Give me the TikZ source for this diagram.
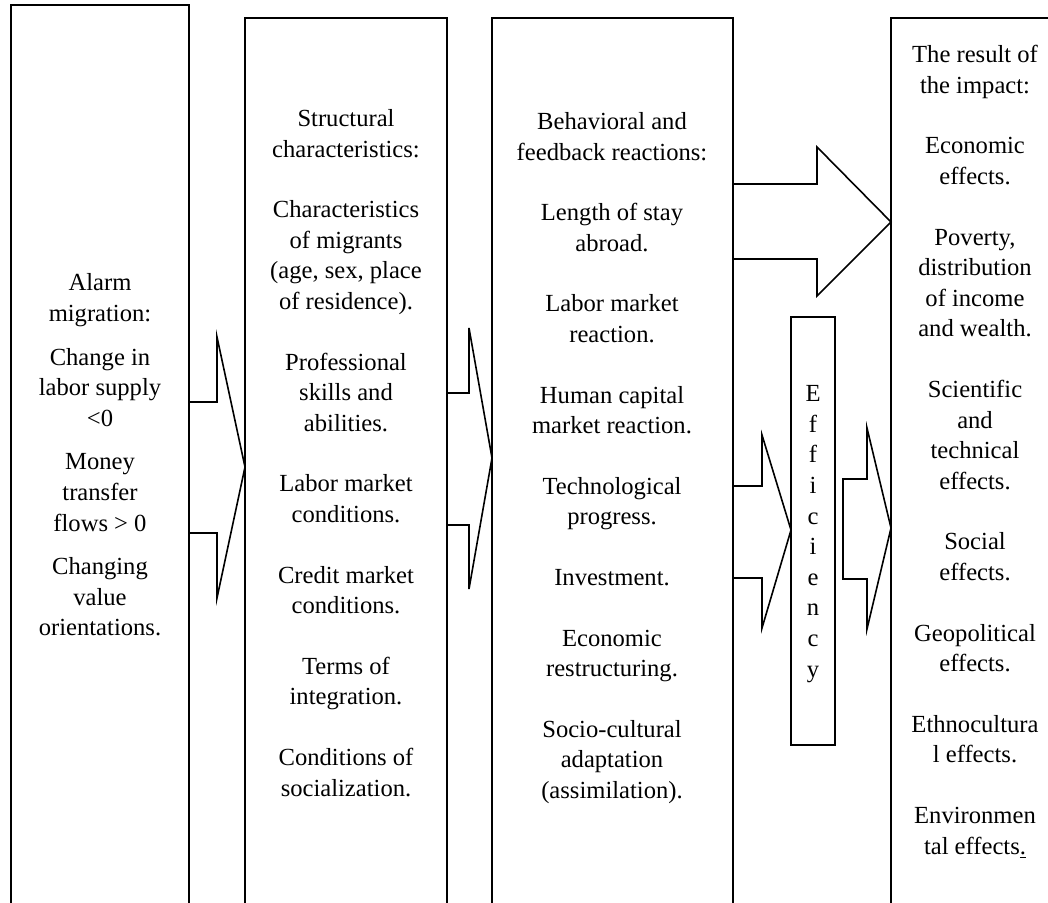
\documentclass[tikz,border=0pt]{standalone}
\usepackage{fontspec}
\setmainfont{Liberation Serif}
\usetikzlibrary{fit}
\newcommand{\boxfont}{\fontsize{12.3}{15.3}\selectfont}
\tikzset{
	frame/.style={draw, line width=0.9pt, inner sep=0pt, outer sep=0pt},
	blockarrow/.style={line width=0.8pt},
	boxtext/.style={align=center, font=\boxfont, inner sep=0pt},
}
\begin{document}
\begin{tikzpicture}[x=0.5pt,y=-0.5pt]
		\useasboundingbox (0,0) rectangle (1048,903);
		\clip (0,0) rectangle (1048,903);
		% frames, open below the picture
		\node[frame, fit={(11,5) (189,940)}] (alarmbox) {};
		\node[frame, fit={(245,18) (447,940)}] (structbox) {};
		\node[frame, fit={(492,18) (733,940)}] (reactbox) {};
		\node[frame, fit={(891,18) (1090,940)}] (resultbox) {};
		\node[frame, fit={(791,317) (835,745)}] (effbox) {};
		%
		\node[boxtext] (alarm) at (100,455) {Alarm\\migration:\\[6.5pt]Change in\\labor supply\\<0\\[6.5pt]Money\\transfer\\flows > 0\\[6.5pt]Changing\\value\\orientations.};
		\node[boxtext] (struct) at (346,453) {Structural\\characteristics:\\[15pt]Characteristics\\of migrants\\(age, sex, place\\of residence).\\[15pt]Professional\\skills and\\abilities.\\[15pt]Labor market\\conditions.\\[15pt]Credit market\\conditions.\\[15pt]Terms of\\integration.\\[15pt]Conditions of\\socialization.};
		\node[boxtext] (react) at (612,458) {Behavioral and\\feedback reactions:\\[15pt]Length of stay\\abroad.\\[15pt]Labor market\\reaction.\\[15pt]Human capital\\market reaction.\\[15pt]Technological\\progress.\\[15pt]Investment.\\[15pt]Economic\\restructuring.\\[15pt]Socio-cultural\\adaptation\\(assimilation).};
		\node[boxtext] (result) at (975,452) {The result of\\the impact:\\[15pt]Economic\\effects.\\[15pt]Poverty,\\distribution\\of income\\and wealth.\\[15pt]Scientific\\and\\technical\\effects.\\[15pt]Social\\effects.\\[15pt]Geopolitical\\effects.\\[15pt]Ethnocultura\\l effects.\\[15pt]Environmen\\tal effects\underline{.}};
		\node[boxtext] (eff) at (effbox.center |- 0,534) {E\\f\\f\\i\\c\\i\\e\\n\\c\\y};
		%
		\draw[blockarrow] (alarmbox.east |- 0,402) -- (217,402) -- (217,337) -- (structbox.west |- 0,467) -- (217,598) -- (217,533) -- (alarmbox.east |- 0,533);
		\draw[blockarrow] (structbox.east |- 0,393) -- (469,393) -- (469,328) -- (reactbox.west |- 0,458) -- (469,589) -- (469,525) -- (structbox.east |- 0,525);
		\draw[blockarrow] (reactbox.east |- 0,184) -- (817,184) -- (817,147) -- (resultbox.west |- 0,222) -- (817,296) -- (817,259) -- (reactbox.east |- 0,259);
		\draw[blockarrow] (reactbox.east |- 0,486) -- (762,486) -- (762,435) -- (effbox.west |- 0,530) -- (762,628) -- (762,578) -- (reactbox.east |- 0,578);
		\draw[blockarrow] (843,479) -- (867,479) -- (867,428) -- (resultbox.west |- 0,528) -- (867,629) -- (867,579) -- (843,579) -- cycle;
\end{tikzpicture}
\end{document}
